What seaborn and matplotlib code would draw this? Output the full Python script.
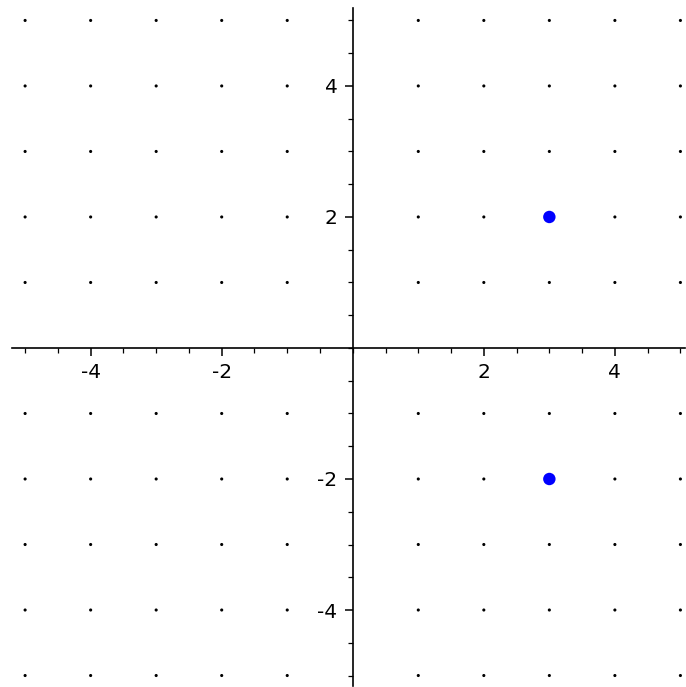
import numpy as np
import pandas as pd
import matplotlib
matplotlib.use("Agg")
import matplotlib.pyplot as plt
from matplotlib.ticker import MultipleLocator
import seaborn as sns

# integer lattice shown as small dots
lattice_x = [-5, -4, -3, -2, -1, 1, 2, 3, 4, 5]
lattice_y = [-5, -4, -3, -2, -1, 1, 2, 3, 4, 5]

# highlighted points
point_x = [3, 3]
point_y = [2, -2]

major_ticks = [-4, -2, 2, 4]

sns.set_style("white")
plt.rcParams['font.family'] = ['DejaVu Sans']

gx, gy = np.meshgrid(lattice_x, lattice_y)
grid = pd.DataFrame({"x": gx.ravel(), "y": gy.ravel()})
pts = pd.DataFrame({"x": point_x, "y": point_y})

fig = plt.figure(figsize=(6.86, 6.87), dpi=100)
W, H = 686, 687
ax = fig.add_axes([12 / W, 1 - 686 / H, (685 - 12) / W, (686 - 8) / H])

sns.scatterplot(data=grid, x="x", y="y", ax=ax, s=5, color="black",
                edgecolor="none", linewidth=0, zorder=1, clip_on=False)
sns.scatterplot(data=pts, x="x", y="y", ax=ax, s=80, color="#0000ff",
                edgecolor="none", linewidth=0, zorder=3, clip_on=False)

ax.set_xlim(-5.20, 5.07)
ax.set_ylim(-5.16, 5.19)
ax.set_xlabel("")
ax.set_ylabel("")

for side in ("top", "right"):
    ax.spines[side].set_visible(False)
ax.spines["left"].set_position("zero")
ax.spines["bottom"].set_position("zero")
for side in ("left", "bottom"):
    ax.spines[side].set_linewidth(1.2)
    ax.spines[side].set_color("black")
    ax.spines[side].set_zorder(2)

ax.set_xticks(major_ticks)
ax.set_yticks(major_ticks)
ax.xaxis.set_minor_locator(MultipleLocator(0.5))
ax.yaxis.set_minor_locator(MultipleLocator(0.5))
ax.tick_params(which="major", direction="out", length=6, width=1.1,
               labelsize=14.5, colors="black", pad=5)
ax.tick_params(which="minor", direction="out", length=3.5, width=0.9,
               colors="black")
ax.tick_params(axis="x", which="both", bottom=True)
ax.tick_params(axis="y", which="both", left=True)
ax.set_xticklabels([str(t) for t in major_ticks])
ax.set_yticklabels([str(t) for t in major_ticks])

fig.savefig("out.png", dpi=100)
